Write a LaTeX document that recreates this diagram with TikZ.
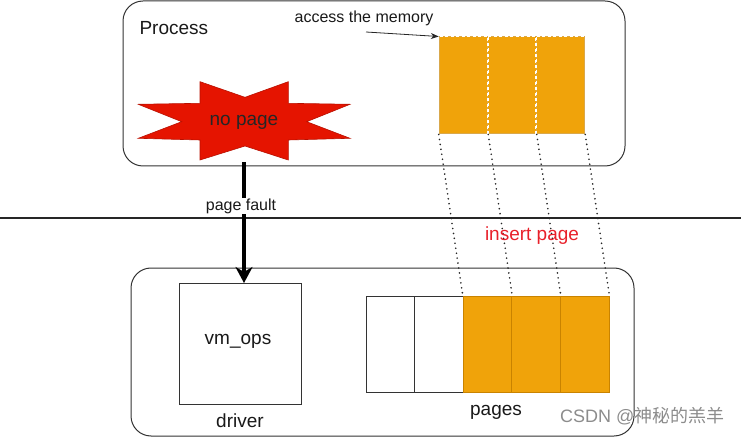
\documentclass[tikz,border=0pt]{standalone}
\usepackage{fontspec}
\setmainfont{Liberation Sans}
\newfontfamily\cjk{Noto Sans CJK SC}
\usetikzlibrary{arrows.meta}
\definecolor{orng}{HTML}{F0A30A}
\definecolor{orngline}{HTML}{C98300}
\definecolor{starred}{HTML}{E51400}
\definecolor{starline}{HTML}{B81000}
\definecolor{txtred}{HTML}{E8202A}
\definecolor{frame}{HTML}{333333}
\tikzset{
  bigtxt/.style={font=\fontsize{19}{22}\selectfont, text=black!90},
  smalltxt/.style={font=\fontsize{16}{19}\selectfont, text=black!90},
  container/.style={draw=frame, line width=1pt, rounded corners=20pt, inner sep=0pt},
  toppage/.style={fill=orng, draw=orngline!70, line width=1pt,
    minimum width=48.5pt, minimum height=97pt, inner sep=0pt},
  whitedash/.style={draw=white, line width=1pt, dash pattern=on 3pt off 2.5pt},
  emptypage/.style={fill=white, draw=frame, line width=1pt,
    minimum width=48.6pt, minimum height=96pt, inner sep=0pt},
  fullpage/.style={fill=orng, draw=orngline, line width=0.8pt,
    minimum width=48.6pt, minimum height=96pt, inner sep=0pt},
  dotline/.style={draw=black!85, line width=1.8pt, line cap=round, dash pattern=on 0pt off 5pt},
}
\begin{document}
\begin{tikzpicture}[x=1pt,y=-1pt]
\useasboundingbox (0,0) rectangle (741,438);

% containers
\node[container, minimum width=502pt, minimum height=165pt] (proc) at (374,83.5) {};
\node[container, minimum width=503pt, minimum height=168pt] (drvbox) at (382.5,352) {};

\node[bigtxt, anchor=west] (proclabel) at (136,28) {Process};

% separator line
\coordinate (sepL) at (0,218);
\coordinate (sepR) at (741,218);
\draw[draw=black!85, line width=1.6pt] (sepL) -- (sepR);

% star
\draw[fill=starred, draw=starline, line width=0.6pt]
  (200,81.7) -- (245,97.3) -- (288.3,81.7) -- (288.3,103.3) -- (350,104.3)
  -- (306.7,121.7) -- (350,138.3) -- (288.3,140) -- (288.3,160) -- (245,146)
  -- (200,160) -- (200,140) -- (138.3,138.3) -- (181.7,121.7) -- (138.3,104.3)
  -- (200,103.3) -- cycle;
\node[bigtxt, text=black!85] (star) at (244,122) {no page};
\coordinate (starbot) at (244,162);

% top pages
\node[toppage] (t1) at (463.5,85.5) {};
\node[toppage] (t2) at (512,85.5) {};
\node[toppage] (t3) at (560.5,85.5) {};
\foreach \t in {t1,t2,t3}{
  \draw[whitedash] (\t.south west) rectangle (\t.north east);
}

\node[smalltxt] (access) at (364,18) {access the memory};
\coordinate (accstart) at (366,32);
\draw[-{Stealth[length=8pt,width=6pt]}, line width=0.8pt, black!85] (accstart) -- (t1.north west);

% bottom
\node[draw=frame, line width=0.8pt, fill=white, minimum width=122pt, minimum height=121pt, inner sep=0pt] (vm) at (240,343.5) {};
\node[bigtxt] (vmlabel) at (238,341) {vm\_ops};
\node[bigtxt] (driver) at (240,421) {driver};

\node[emptypage] (b1) at (390.3,344) {};
\node[emptypage] (b2) at (438.9,344) {};
\node[fullpage] (b3) at (487.5,344) {};
\node[fullpage] (b4) at (536.1,344) {};
\node[fullpage] (b5) at (584.7,344) {};
\node[bigtxt] (pages) at (496,412) {pages};

% dotted connectors
\draw[dotline] (t1.south west) -- (b3.north west);
\draw[dotline] (t1.south east) -- (b3.north east);
\draw[dotline] (t2.south east) -- (b4.north east);
\draw[dotline] (t3.south east) -- (b5.north east);

\node[bigtxt, text=txtred] (insert) at (532,236) {insert page};

% page fault arrow
\coordinate (vmtop) at (244,283);
\draw[line width=3.5pt, -{Stealth[length=16pt,width=17pt,inset=5pt]}] (starbot) -- (vmtop);
\node[smalltxt, fill=white, inner sep=1pt] (pf) at (241,206) {page fault};

% watermark
\node[text=black!45, font=\fontsize{18}{21}\selectfont, anchor=east] (wm) at (728,416) {CSDN @{\cjk 神秘的羔羊}};
\end{tikzpicture}
\end{document}
